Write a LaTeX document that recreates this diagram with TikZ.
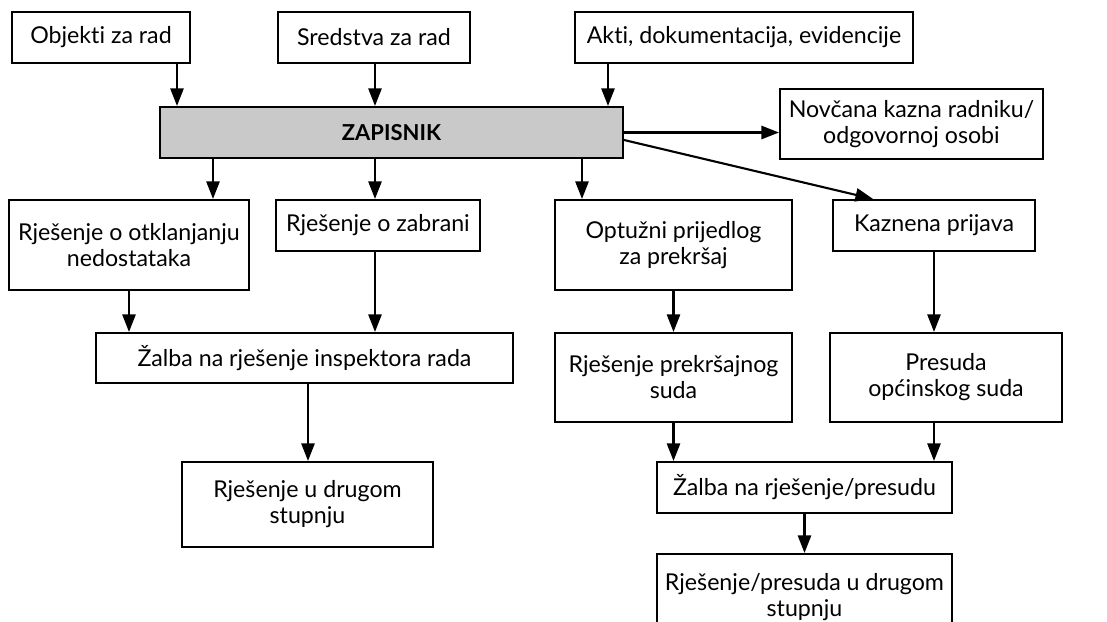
\documentclass[tikz,border=0pt]{standalone}
\usepackage{fontspec}
\setmainfont[Ligatures=NoCommon]{Lato}
\usepackage{tikz}
\usetikzlibrary{arrows.meta}

\definecolor{zapgray}{RGB}{201,201,201}

\begin{document}
\begin{tikzpicture}[
    x=0.02cm, y=-0.02cm,
    every node/.style={fill=white, draw=black, line width=1.2pt, align=center, font=\fontsize{13.2}{14.8}\selectfont, inner sep=2pt},
    zapbox/.style={fill=zapgray, font=\fontsize{12.5}{14}\selectfont\bfseries},
    arr/.style={line width=1.2pt, -{Triangle[length=10pt,width=7.5pt]}}
]

\clip (0,0) rectangle (1107,622);

% Nodes
\node[minimum width=3.56cm, minimum height=1.02cm] (objekti) at (101,37.5) {Objekti za rad};
\node[minimum width=3.84cm, minimum height=1.02cm] (sredstva) at (374,37.5) {Sredstva za rad};
\node[minimum width=6.76cm, minimum height=1.02cm] (akti) at (744,37.5) {Akti, dokumentacija, evidencije};
\node[zapbox, minimum width=9.26cm, minimum height=1.02cm] (zapisnik) at (391.5,132.5) {ZAPISNIK};
\node[minimum width=5.26cm, minimum height=1.40cm] (novcana) at (911.5,124) {Novčana kazna radniku/\\odgovornoj osobi};
\node[minimum width=4.80cm, minimum height=1.80cm] (otklanjanje) at (129,245) {Rješenje o otklanjanju\\nedostataka};
\node[minimum width=4.08cm, minimum height=1.02cm] (zabrana) at (378,225.5) {Rješenje o zabrani};
\node[minimum width=4.74cm, minimum height=1.80cm] (optuzni) at (673.5,245) {Optužni prijedlog\\za prekršaj};
\node[minimum width=4.04cm, minimum height=1.02cm] (kaznena) at (934,225.5) {Kaznena prijava};
\node[minimum width=8.34cm, minimum height=1.00cm] (zalbainsp) at (304.5,358) {Žalba na rješenje inspektora rada};
\node[minimum width=4.74cm, minimum height=1.78cm] (prekrsajni) at (673.5,377.5) {Rješenje prekršajnog\\suda};
\node[minimum width=4.64cm, minimum height=1.78cm] (presuda) at (946,377.5) {Presuda\\općinskog suda};
\node[minimum width=5.02cm, minimum height=1.70cm] (drugistupanj) at (307.5,504.5) {Rješenje u drugom\\stupnju};
\node[minimum width=5.90cm, minimum height=1.02cm] (zalbapres) at (804.5,487.5) {Žalba na rješenje/presudu};
\node[minimum width=5.90cm, minimum height=1.72cm] (drugipres) at (804.5,597) {Rješenje/presuda u drugom\\stupnju};

% Paths
\draw[arr] (objekti.south -| 177,0) -- (zapisnik.north -| 177,0);
\draw[arr] (sredstva.south -| 375,0) -- (zapisnik.north -| 375,0);
\draw[arr] (akti.south -| 608,0) -- (zapisnik.north -| 608,0);
\draw[arr] (zapisnik.east) -- (zapisnik.east -| novcana.west);
\draw[arr] (zapisnik.east |- 0,140) -- (kaznena.north -| 873,0);
\draw[arr] (zapisnik.south -| 213,0) -- (otklanjanje.north -| 213,0);
\draw[arr] (zapisnik.south -| 375,0) -- (zabrana.north -| 375,0);
\draw[arr] (zapisnik.south -| 582,0) -- (optuzni.north -| 582,0);
\draw[arr] (otklanjanje.south) -- (zalbainsp.north -| otklanjanje.south);
\draw[arr] (zabrana.south -| 375,0) -- (zalbainsp.north -| 375,0);
\draw[arr] (optuzni.south) -- (prekrsajni.north);
\draw[arr] (kaznena.south) -- (presuda.north -| kaznena.south);
\draw[arr] (zalbainsp.south -| 308,0) -- (drugistupanj.north -| 308,0);
\draw[arr] (prekrsajni.south) -- (zalbapres.north -| prekrsajni.south);
\draw[arr] (presuda.south -| 934,0) -- (zalbapres.north -| 934,0);
\draw[arr] (zalbapres.south) -- (drugipres.north);

\end{tikzpicture}
\end{document}
